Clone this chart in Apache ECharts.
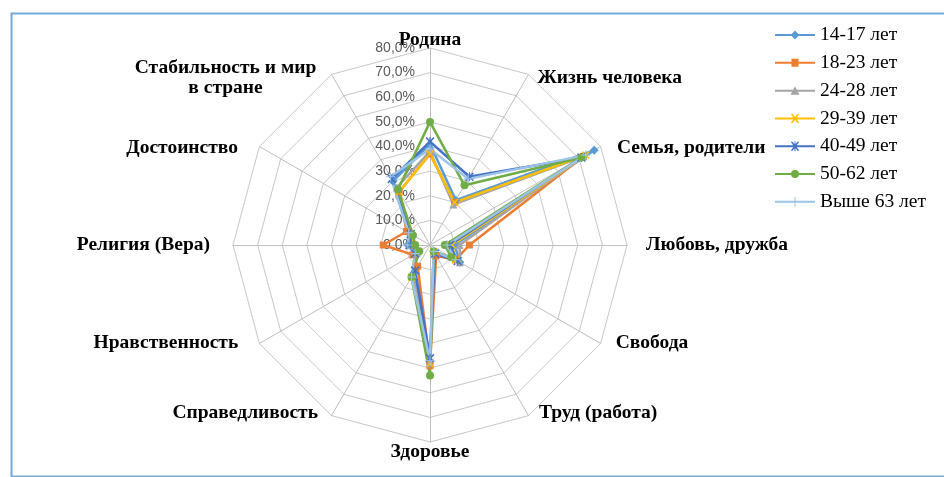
<!DOCTYPE html>
<html><head><meta charset="utf-8">
<script src="https://cdn.jsdelivr.net/npm/echarts@6/dist/echarts.min.js"></script>
<style>html,body{margin:0;padding:0;background:#fff}#c{width:944px;height:477px}</style>
</head><body><div id="c"></div>
<script>
// Categories listed clockwise starting from the top
const categories = ['Родина','Жизнь человека','Семья, родители','Любовь, дружба','Свобода','Труд (работа)','Здоровье','Справедливость','Нравственность','Религия (Вера)','Достоинство','Стабильность и мир\nв стране'];
const seriesNames = ['14-17 лет','18-23 лет','24-28 лет','29-39 лет','40-49 лет','50-62 лет','Выше 63 лет'];
const v14_17 = [41, 21, 77, 10, 14, 4, 47, 13, 7, 9, 10, 30];
const v18_23 = [37, 20, 72, 16, 12, 5, 49, 10, 8, 19, 11, 25];
const v24_28 = [38, 19, 72, 12, 14, 3, 48, 14, 6, 7, 9, 27];
const v29_39 = [37, 20, 73, 9, 12, 3, 48, 15, 7, 7, 9, 25];
const v40_49 = [42, 32, 71, 8, 13, 4, 46, 12, 7, 8, 9, 31];
const v50_62 = [50, 28, 71, 6, 10, 3, 53, 15, 5, 6, 8, 26];
const v63 = [39, 31, 73, 7, 12, 3, 47, 15, 7, 9, 10, 32];
const axisMax = 80;
const axisSplits = 8;

const allValues = [v14_17, v18_23, v24_28, v29_39, v40_49, v50_62, v63];
const colors = ['#5B9BD5','#ED7D31','#A5A5A5','#FFC000','#4472C4','#70AD47','#9DC3E6'];
const xPath = 'M0,1 L1,0 L4,3 L7,0 L8,1 L5,4 L8,7 L7,8 L4,5 L1,8 L0,7 L3,4 Z';
const symbols = ['diamond','rect','triangle','path://'+xPath,'path://'+xPath+' M3.5,0 L4.5,0 L4.5,8 L3.5,8 Z','circle','path://M3.5,0 L4.5,0 L4.5,3.5 L8,3.5 L8,4.5 L4.5,4.5 L4.5,8 L3.5,8 L3.5,4.5 L0,4.5 L0,3.5 L3.5,3.5 Z'];
const symbolSizes = [9, 7, 8, 8, 9, 8, 9];
const line = 'M0,4 L40,4 L40,6 L0,6 Z ';
const legendIcons = [
  'path://' + line + 'M20,0.5 L24.5,5 L20,9.5 L15.5,5 Z',
  'path://' + line + 'M16.5,1 L23.5,1 L23.5,9 L16.5,9 Z',
  'path://' + line + 'M20,0.5 L24.5,9 L15.5,9 Z',
  'path://' + line + 'M16,1 L17,0 L20,3.5 L23,0 L24,1 L21,5 L24,9 L23,10 L20,6.5 L17,10 L16,9 L19,5 Z',
  'path://' + line + 'M16,1 L17,0 L20,3.5 L23,0 L24,1 L21,5 L24,9 L23,10 L20,6.5 L17,10 L16,9 L19,5 Z M19.5,0 L20.5,0 L20.5,10 L19.5,10 Z',
  'path://' + line + 'M16,5 A4,4 0 1,1 24,5 A4,4 0 1,1 16,5 Z',
  'path://' + line + 'M19.5,0 L20.5,0 L20.5,10 L19.5,10 Z'
];
// per-indicator label placement (clockwise order)
const nameLayout = [
  {gap: -2, pad: [0,0,0,0]},
  {gap: -4, pad: [4,0,0,11]},
  {gap: -3, pad: [4,0,0,19]},
  {gap: 19, pad: [4,0,0,0]},
  {gap: -1, pad: [4,0,0,16]},
  {gap: -3, pad: [4,0,0,12]},
  {gap: 0, pad: [0,0,0,0]},
  {gap: -3, pad: [4,15,0,0]},
  {gap: -1, pad: [4,22,0,0]},
  {gap: 23, pad: [4,0,0,0]},
  {gap: -3, pad: [4,24,0,0]},
  {gap: -4, pad: [2,216,0,0], align: 'center'}
];
// ECharts radar runs counter-clockwise: reorder
const order = [0].concat(categories.map((_, i) => i).slice(1).reverse());

const indicator = order.map(i => {
  const ind = {name: categories[i], min: 0, max: axisMax, nameGap: nameLayout[i].gap,
    nameMoveOverlap: false,
    nameTextStyle: {padding: nameLayout[i].pad, lineHeight: 20}};
  if (nameLayout[i].align) ind.nameTextStyle.align = nameLayout[i].align;
  if (i === 0) ind.axisLabel = {show: true};
  return ind;
});

const series = [{
  type: 'radar',
  data: seriesNames.map((n, s) => ({
    name: n,
    value: order.map(i => allValues[s][i]),
    symbol: symbols[s],
    symbolSize: symbolSizes[s],
    lineStyle: {color: colors[s], width: 2.5},
    itemStyle: {color: colors[s]}
  }))
}];

const chart = echarts.init(document.getElementById('c'), null, {renderer: 'canvas'});
chart.setOption({
  animation: false,
  backgroundColor: '#fff',
  color: colors,
  graphic: [{type: 'rect', left: 9, top: 11, shape: {width: 960, height: 463},
    style: {fill: 'none', stroke: '#74A9D8', lineWidth: 2}, silent: true}],
  legend: {
    orient: 'vertical', left: 775, top: 25, padding: 0, itemWidth: 40, itemHeight: 10, itemGap: 7.8,
    itemStyle: {borderWidth: 0},
    textStyle: {fontFamily: 'Liberation Serif', fontSize: 19.5, color: '#000'},
    data: seriesNames.map((n, i) => ({name: n, icon: legendIcons[i]}))
  },
  radar: {
    center: [430, 245],
    radius: 197,
    startAngle: 90,
    shape: 'polygon',
    splitNumber: axisSplits,
    axisName: {color: '#000', fontFamily: 'Liberation Serif', fontWeight: 'bold', fontSize: 19.5},
    axisNameGap: 4,
    axisLine: {lineStyle: {color: '#BFBFBF', width: 1}},
    splitLine: {lineStyle: {color: '#C8C8C8', width: 1}},
    splitArea: {show: false},
    axisLabel: {show: false, margin: 15, color: '#595959', fontFamily: 'Liberation Sans', fontSize: 14,
      formatter: v => v.toFixed(1).replace('.', ',') + '%'},
    indicator: indicator
  },
  series: series
});
</script></body></html>
